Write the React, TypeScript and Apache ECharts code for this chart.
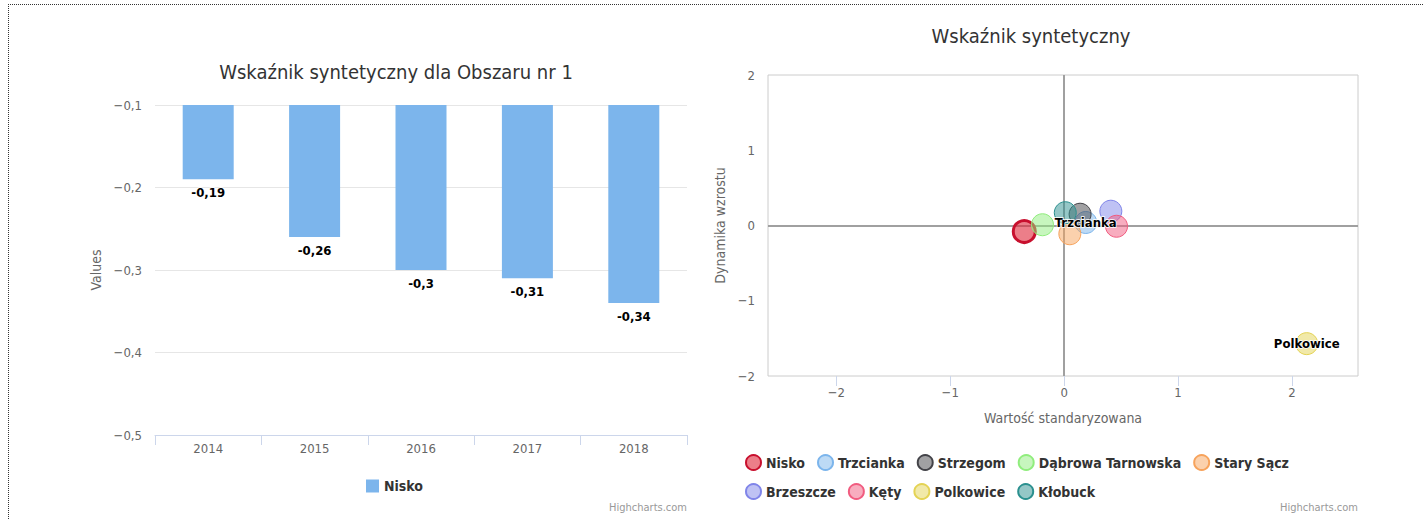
import React, { useEffect, useRef } from 'react';
import * as echarts from 'echarts';

// ---------- Data: left chart ----------
const years = ['2014', '2015', '2016', '2017', '2018'];
const niskoValues = [-0.19, -0.26, -0.3, -0.31, -0.34];
const barAxisMin = -0.5;
const barAxisMax = -0.1;
const barAxisStep = 0.1;

// ---------- Data: right chart ----------
const towns = ['Nisko', 'Trzcianka', 'Strzegom', 'Dąbrowa Tarnowska', 'Stary Sącz', 'Brzeszcze', 'Kęty', 'Polkowice', 'Kłobuck'];
const townX = [-0.35, 0.19, 0.14, -0.19, 0.05, 0.41, 0.46, 2.13, 0.01];
const townY = [-0.08, 0.04, 0.15, 0.01, -0.11, 0.19, -0.01, -1.57, 0.17];
const townColors = ['#e0283a', '#7cb5ec', '#434348', '#90ed7d', '#f7a35c', '#8085e9', '#f15c80', '#e4d354', '#2b908f'];
const labeledTowns = ['Trzcianka', 'Polkowice'];
const xTickValues = [-2, -1, 0, 1, 2];
const scatterXMin = -2.6;
const scatterXMax = 2.58;
const scatterYMin = -2;
const scatterYMax = 2;
const scatterYStep = 1;

const FONT = '"DejaVu Sans Condensed", "Liberation Sans Narrow", "DejaVu Sans", sans-serif';

const fmtAxis = (v: number) => {
  const r = Math.round(v * 100) / 100;
  if (r === 0) return '0';
  return (r < 0 ? '−' : '') + String(Math.abs(r)).replace('.', ',');
};
const fmtLabel = (v: number) => String(Math.round(v * 100) / 100).replace('.', ',');

const rgba = (hex: string, a: number) => {
  const n = parseInt(hex.slice(1), 16);
  return `rgba(${(n >> 16) & 255},${(n >> 8) & 255},${n & 255},${a})`;
};

function useChart(option: any) {
  const ref = useRef<HTMLDivElement>(null);
  useEffect(() => {
    if (!ref.current) return;
    const chart = echarts.init(ref.current, null, { renderer: 'svg' });
    chart.setOption(option);
    return () => chart.dispose();
  }, []);
  return ref;
}

const leftOption = {
  animation: false,
  textStyle: { fontFamily: FONT },
  title: {
    text: 'Wskaźnik syntetyczny dla Obszaru nr 1',
    left: 391,
    top: 57,
    textAlign: 'center',
    textStyle: { fontFamily: FONT, fontSize: 20, fontWeight: 'normal', color: '#333333' },
  },
  legend: {
    left: 361,
    top: 474,
    data: ['Nisko'],
    icon: 'rect',
    itemWidth: 13,
    itemHeight: 13,
    itemGap: 20,
    textStyle: { fontFamily: FONT, fontSize: 14, fontWeight: 'bold', color: '#333333' },
    selectedMode: false,
  },
  grid: { left: 155, right: 713 - 687, top: 105, bottom: 84, outerBoundsMode: 'none' },
  xAxis: {
    type: 'category',
    data: years,
    axisLine: { lineStyle: { color: '#ccd6eb' } },
    axisTick: { show: true, length: 10, lineStyle: { color: '#ccd6eb' } },
    axisLabel: { color: '#666666', fontSize: 13, margin: 7, fontFamily: FONT },
  },
  yAxis: {
    type: 'value',
    min: barAxisMin,
    max: barAxisMax,
    interval: barAxisStep,
    name: 'Values',
    nameLocation: 'middle',
    nameGap: 44,
    nameTextStyle: { color: '#666666', fontSize: 14, fontFamily: FONT },
    axisLine: { show: false },
    axisTick: { show: false },
    axisLabel: { color: '#666666', fontSize: 13, margin: 13, fontFamily: FONT, formatter: fmtAxis },
    splitLine: { lineStyle: { color: '#e6e6e6' } },
  },
  graphic: [
    {
      type: 'text',
      right: 713 - 687,
      top: 502,
      style: { text: 'Highcharts.com', fill: '#999999', fontSize: 11, fontFamily: FONT },
    },
  ],
  series: [
    {
      type: 'bar',
      name: 'Nisko',
      data: niskoValues,
      barWidth: 51,
      clip: true,
      itemStyle: { color: '#7cb5ec' },
      label: {
        show: true,
        position: 'bottom',
        distance: 7,
        formatter: (p: any) => fmtLabel(p.value),
        fontFamily: FONT,
        fontSize: 13,
        fontWeight: 'bold',
        color: '#000000',
        textBorderColor: '#ffffff',
        textBorderWidth: 1.5,
      },
    },
  ],
};

const scatterSeries = towns.map((name, i) => {
  const isNisko = i === 0;
  const s: any = {
    type: 'scatter',
    name,
    xAxisIndex: 0,
    yAxisIndex: 0,
    symbol: 'circle',
    symbolSize: 22,
    data: [[townX[i], townY[i]]],
    itemStyle: {
      color: rgba(townColors[i], isNisko ? 0.6 : 0.5),
      borderColor: isNisko ? '#c8102e' : townColors[i],
      borderWidth: isNisko ? 3 : 1,
      opacity: 1,
    },
    label: {
      show: labeledTowns.includes(name),
      position: 'inside',
      formatter: () => name,
      fontFamily: FONT,
      fontSize: 13,
      fontWeight: 'bold',
      color: '#000000',
      textBorderColor: '#ffffff',
      textBorderWidth: 1.5,
    },
    emphasis: { disabled: true },
  };
  if (i === 0) {
    s.markLine = {
      silent: true,
      symbol: 'none',
      z: 1,
      label: { show: false },
      lineStyle: { color: '#a0a0a0', width: 2, type: 'solid' },
      data: [{ xAxis: 0 }, { yAxis: 0 }],
    };
  }
  return s;
});

const rightOption = {
  animation: false,
  textStyle: { fontFamily: FONT },
  title: {
    text: 'Wskaźnik syntetyczny',
    left: 313,
    top: 21,
    textAlign: 'center',
    textStyle: { fontFamily: FONT, fontSize: 20, fontWeight: 'normal', color: '#333333' },
  },
  legend: {
    left: 27,
    top: 449,
    width: 610,
    data: towns,
    icon: 'circle',
    itemWidth: 15,
    itemHeight: 15,
    itemGap: 12,
    textStyle: { fontFamily: FONT, fontSize: 14, fontWeight: 'bold', color: '#333333', padding: [0, 7, 0, 0] },
    selectedMode: false,
  },
  grid: { left: 55, right: 68, top: 75, bottom: 143, outerBoundsMode: 'none', show: true, borderColor: '#cccccc', borderWidth: 1, backgroundColor: 'transparent' },
  xAxis: {
    type: 'value',
    min: scatterXMin,
    max: scatterXMax,
    name: 'Wartość standaryzowana',
    nameLocation: 'middle',
    nameGap: 35,
    nameTextStyle: { color: '#666666', fontSize: 14, fontFamily: FONT },
    axisLine: { show: false, onZero: false },
    axisTick: { show: true, length: 10, lineStyle: { color: '#ccd6eb' }, customValues: xTickValues },
    axisLabel: { color: '#666666', fontSize: 13, margin: 10, fontFamily: FONT, customValues: xTickValues, formatter: fmtAxis },
    splitLine: { show: false },
  },
  yAxis: {
    type: 'value',
    min: scatterYMin,
    max: scatterYMax,
    interval: scatterYStep,
    name: 'Dynamika wzrostu',
    nameLocation: 'middle',
    nameGap: 27,
    nameTextStyle: { color: '#666666', fontSize: 14, fontFamily: FONT },
    axisLine: { show: false, onZero: false },
    axisTick: { show: false },
    axisLabel: { color: '#666666', fontSize: 13, margin: 13, fontFamily: FONT, formatter: fmtAxis },
    splitLine: { show: false },
  },
  graphic: [
    {
      type: 'text',
      right: 713 - 645,
      top: 502,
      style: { text: 'Highcharts.com', fill: '#999999', fontSize: 11, fontFamily: FONT },
    },
  ],
  series: scatterSeries,
};

export default function App() {
  const leftRef = useChart(leftOption);
  const rightRef = useChart(rightOption);
  return (
    <div style={{ position: 'fixed', left: 0, top: 0, width: 1426, height: 519, background: '#ffffff', overflow: 'hidden' }}>
      <div style={{ position: 'absolute', left: 8, top: 4, width: 1415, height: 0, borderTop: '1px dotted #333' }} />
      <div style={{ position: 'absolute', left: 8, top: 4, width: 0, height: 515, borderLeft: '1px dotted #333' }} />
      <div ref={leftRef} style={{ position: 'absolute', left: 0, top: 0, width: 713, height: 519 }} />
      <div ref={rightRef} style={{ position: 'absolute', left: 713, top: 0, width: 713, height: 519 }} />
    </div>
  );
}
